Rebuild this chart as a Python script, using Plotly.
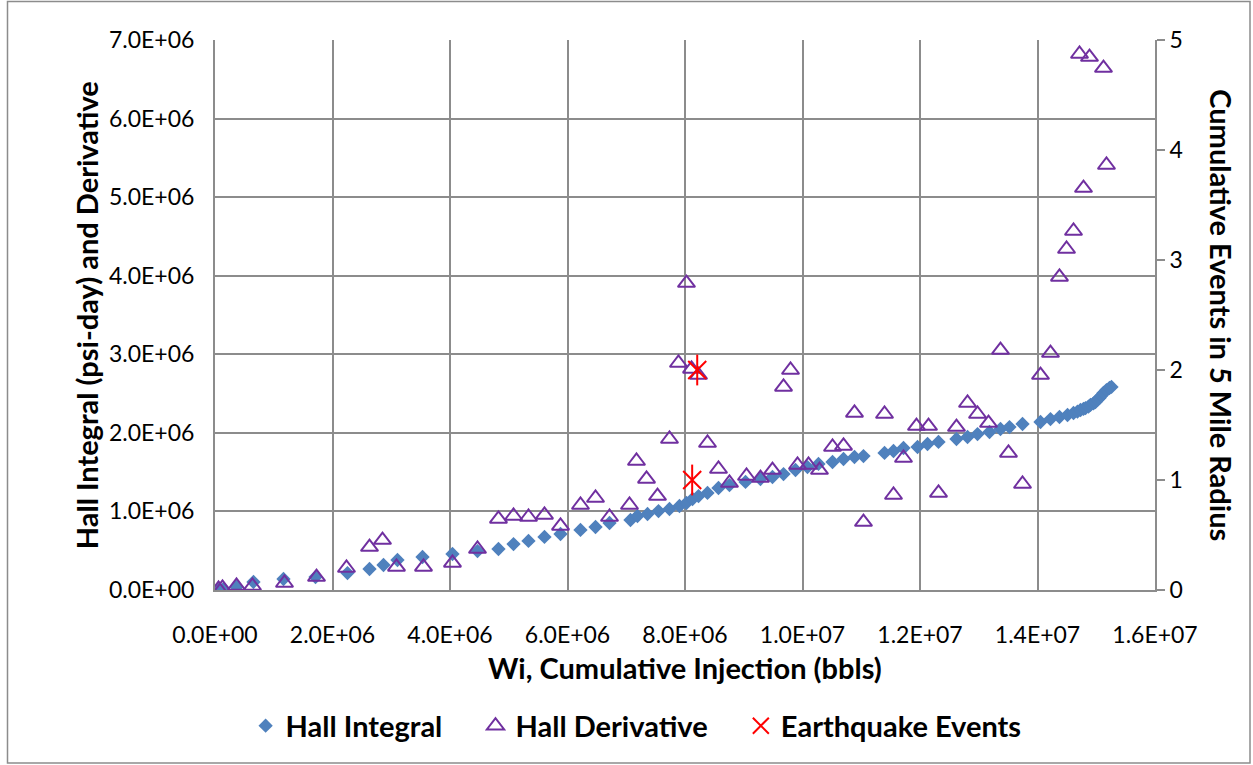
import plotly.graph_objects as go

# ---------------- data ----------------
hall_x = [59.6e3, 144.7e3, 366e3, 655e3, 1.166e6, 1.711e6, 2.255e6, 2.630e6, 2.868e6, 3.106e6,
          3.532e6, 4.042e6, 4.468e6, 4.825e6, 5.081e6, 5.336e6, 5.608e6, 5.881e6, 6.221e6, 6.477e6,
          6.715e6, 7.072e6, 7.191e6, 7.362e6, 7.549e6, 7.736e6, 7.906e6, 8.025e6, 8.128e6, 8.230e6,
          8.383e6, 8.570e6, 8.757e6, 9.030e6, 9.285e6, 9.489e6, 9.677e6, 9.881e6, 10.085e6, 10.272e6,
          10.511e6, 10.698e6, 10.885e6, 11.038e6, 11.396e6, 11.549e6, 11.719e6, 11.958e6, 12.128e6, 12.315e6,
          12.621e6, 12.809e6, 12.979e6, 13.183e6, 13.370e6, 13.523e6, 13.745e6, 14.051e6, 14.221e6, 14.374e6,
          14.511e6, 14.613e6, 14.680e6, 14.732e6, 14.783e6, 14.817e6, 14.868e6, 14.902e6, 14.953e6, 14.987e6,
          15.021e6, 15.055e6, 15.089e6, 15.123e6, 15.174e6, 15.225e6, 15.259e6]
hall_y = [0, 12.7e3, 38e3, 102e3, 140e3, 165e3, 216e3, 267e3, 318e3, 382e3,
          420e3, 458e3, 496e3, 522e3, 585e3, 624e3, 675e3, 713e3, 764e3, 802e3,
          853e3, 891e3, 942e3, 967e3, 1.005e6, 1.031e6, 1.069e6, 1.107e6, 1.158e6, 1.196e6,
          1.235e6, 1.298e6, 1.336e6, 1.375e6, 1.413e6, 1.438e6, 1.476e6, 1.527e6, 1.565e6, 1.604e6,
          1.629e6, 1.667e6, 1.693e6, 1.705e6, 1.744e6, 1.769e6, 1.807e6, 1.820e6, 1.858e6, 1.884e6,
          1.922e6, 1.947e6, 1.985e6, 2.011e6, 2.049e6, 2.074e6, 2.113e6, 2.138e6, 2.176e6, 2.202e6,
          2.227e6, 2.253e6, 2.270e6, 2.291e6, 2.305e6, 2.316e6, 2.335e6, 2.355e6, 2.375e6, 2.393e6,
          2.420e6, 2.444e6, 2.475e6, 2.507e6, 2.545e6, 2.571e6, 2.584e6]

deriv_x = [59.6e3, 127.7e3, 366e3, 638e3, 1.183e6, 1.728e6, 2.238e6, 2.630e6, 2.851e6, 3.089e6,
           3.549e6, 4.042e6, 4.468e6, 4.825e6, 5.081e6, 5.336e6, 5.608e6, 5.881e6, 6.221e6, 6.477e6,
           6.715e6, 7.055e6, 7.174e6, 7.345e6, 7.532e6, 7.736e6, 7.889e6, 8.025e6, 8.111e6, 8.230e6,
           8.383e6, 8.570e6, 8.757e6, 9.047e6, 9.285e6, 9.489e6, 9.677e6, 9.796e6, 9.915e6, 10.102e6,
           10.289e6, 10.511e6, 10.698e6, 10.885e6, 11.038e6, 11.396e6, 11.549e6, 11.719e6, 11.940e6, 12.145e6,
           12.315e6, 12.621e6, 12.809e6, 12.979e6, 13.166e6, 13.370e6, 13.506e6, 13.745e6, 14.051e6, 14.221e6,
           14.374e6, 14.494e6, 14.613e6, 14.715e6, 14.783e6, 14.885e6, 15.123e6, 15.174e6]
deriv_y = [12.7e3, 25.5e3, 51e3, 51e3, 89e3, 165e3, 280e3, 547e3, 636e3, 293e3,
           293e3, 344e3, 522e3, 904e3, 942e3, 929e3, 955e3, 815e3, 1.082e6, 1.171e6,
           929e3, 1.082e6, 1.642e6, 1.413e6, 1.196e6, 1.922e6, 2.889e6, 3.907e6, 2.813e6, 2.736e6,
           1.871e6, 1.540e6, 1.362e6, 1.451e6, 1.425e6, 1.527e6, 2.584e6, 2.800e6, 1.591e6, 1.591e6,
           1.527e6, 1.820e6, 1.833e6, 2.253e6, 865e3, 2.240e6, 1.209e6, 1.680e6, 2.087e6, 2.087e6,
           1.235e6, 2.074e6, 2.380e6, 2.240e6, 2.125e6, 3.054e6, 1.744e6, 1.349e6, 2.736e6, 3.016e6,
           3.984e6, 4.340e6, 4.569e6, 6.822e6, 5.116e6, 6.783e6, 6.643e6, 5.409e6]

quake_x = [8.122e6, 8.208e6]
quake_events = [1, 2]

series_names = ["Hall Integral", "Hall Derivative", "Earthquake Events"]

x_tickvals = [0, 2e6, 4e6, 6e6, 8e6, 10e6, 12e6, 14e6, 16e6]
x_ticktext = ["0.0E+00", "2.0E+06", "4.0E+06", "6.0E+06", "8.0E+06", "1.0E+07", "1.2E+07", "1.4E+07", "1.6E+07"]
y_tickvals = [0, 1e6, 2e6, 3e6, 4e6, 5e6, 6e6, 7e6]
y_ticktext = ["0.0E+00", "1.0E+06", "2.0E+06", "3.0E+06", "4.0E+06", "5.0E+06", "6.0E+06", "7.0E+06"]
y2_tickvals = [0, 1, 2, 3, 4, 5]

# ---------------- figure ----------------
FONT = "Lato"
GRID = "#8c8c8c"
TICK_SIZE = 23
TITLE_SIZE = 29
PAD = "\u00a0" * 4
fig = go.Figure()

fig.add_trace(go.Scatter(
    x=hall_x, y=hall_y, mode="markers", name=series_names[0] + PAD,
    marker=dict(symbol="diamond", size=11, color="#4F81BD", line=dict(width=0))))
fig.add_trace(go.Scatter(
    x=deriv_x, y=deriv_y, mode="markers", name=series_names[1] + PAD,
    marker=dict(symbol="triangle-up-open", size=15, color="#7030A0", line=dict(width=2, color="#7030A0"))))
fig.add_trace(go.Scatter(
    x=quake_x, y=quake_events, mode="markers", name=series_names[2], yaxis="y2",
    marker=dict(symbol="x-thin-open", size=18, color="#FF0000", line=dict(width=2, color="#FF0000"))))
fig.add_trace(go.Scatter(
    x=quake_x, y=quake_events, mode="markers", showlegend=False, yaxis="y2",
    marker=dict(symbol="line-ns-open", size=22, color="#FF0000", line=dict(width=2, color="#FF0000"))))

fig.update_layout(
    width=1253, height=765,
    margin=dict(l=215, r=98, t=40, b=175, autoexpand=False),
    paper_bgcolor="white", plot_bgcolor="white",
    font=dict(family=FONT, size=TICK_SIZE, color="black"),
    showlegend=True,
    legend=dict(orientation="h", x=0.448, xanchor="center", y=-0.247, yanchor="middle",
                font=dict(family=FONT, size=TITLE_SIZE, color="black", weight="bold"),
                itemwidth=30, tracegroupgap=0),
    xaxis=dict(range=[0, 16e6], tickvals=x_tickvals, ticktext=x_ticktext,
               showgrid=True, gridcolor=GRID, gridwidth=2,
               showline=True, linecolor=GRID, linewidth=2, mirror=False,
               ticks="outside", ticklen=23, tickcolor="rgba(0,0,0,0)",
               zeroline=False, tickfont=dict(family=FONT, size=TICK_SIZE)),
    yaxis=dict(range=[0, 7e6], tickvals=y_tickvals, ticktext=y_ticktext,
               showgrid=True, gridcolor=GRID, gridwidth=2,
               showline=True, linecolor=GRID, linewidth=2,
               ticks="outside", ticklen=14, tickcolor="rgba(0,0,0,0)",
               zeroline=False, tickfont=dict(family=FONT, size=TICK_SIZE)),
    yaxis2=dict(range=[0, 5], tickvals=y2_tickvals, overlaying="y", side="right",
                showgrid=False, showline=True, linecolor=GRID, linewidth=2,
                ticks="outside", ticklen=8, tickwidth=2, tickcolor=GRID,
                zeroline=False, tickfont=dict(family=FONT, size=TICK_SIZE)),
)

fig.add_annotation(text="<b>Wi, Cumulative Injection (bbls)</b>", xref="paper", yref="paper",
                   x=0.5, y=-0.14, xanchor="center", yanchor="middle", showarrow=False,
                   font=dict(family=FONT, size=TITLE_SIZE))
fig.add_annotation(text="<b>Hall Integral (psi-day) and Derivative</b>", xref="paper", yref="paper",
                   x=-0.137, y=0.5, xanchor="center", yanchor="middle", textangle=-90, showarrow=False,
                   font=dict(family=FONT, size=TITLE_SIZE))
fig.add_annotation(text="<b>Cumulative Events in 5 Mile Radius</b>", xref="paper", yref="paper",
                   x=1.071, y=0.5, xanchor="center", yanchor="middle", textangle=90, showarrow=False,
                   font=dict(family=FONT, size=TITLE_SIZE))

# chart border
fig.add_shape(type="rect", xref="paper", yref="paper",
              x0=(7.5 - 215) / 940, x1=(1250 - 215) / 940, y0=(590 - 763) / 550, y1=(590 - 1.5) / 550,
              line=dict(color="#8c8c8c", width=1.5), fillcolor="rgba(0,0,0,0)", layer="below")

fig.write_html("out.html", config={"displayModeBar": False},
               post_script="document.body.style.margin='0px';document.body.style.padding='0px';")
